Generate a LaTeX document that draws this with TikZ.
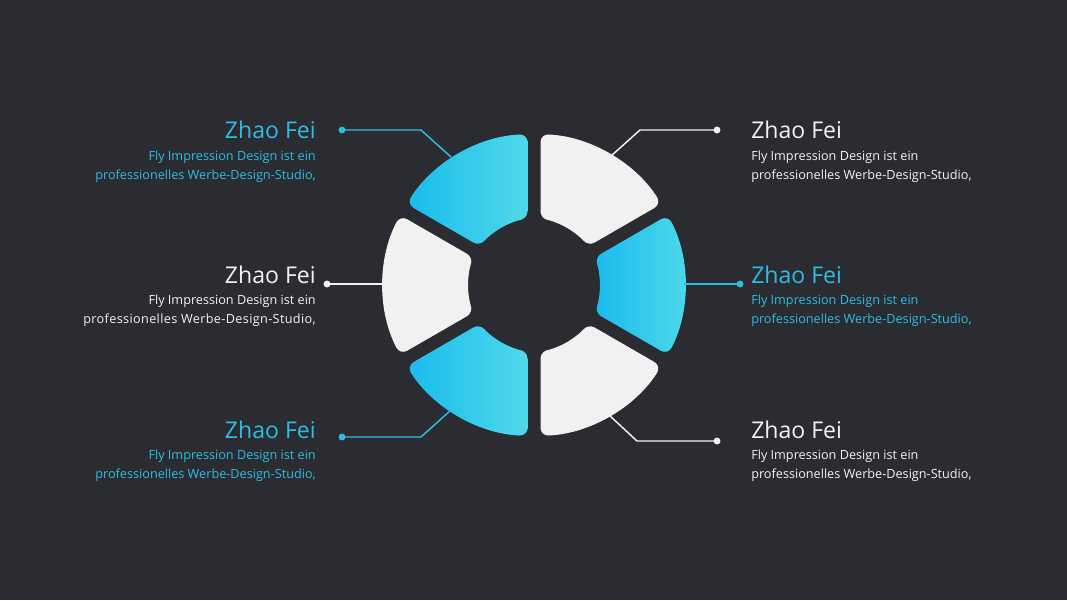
\documentclass[tikz,border=0pt]{standalone}
\usepackage{fontspec}
\setmainfont{Open Sans}
\usepackage{tikz}
\usetikzlibrary{positioning,calc}
\definecolor{ringBg}{HTML}{2B2C31}
\definecolor{ringGray}{HTML}{F1F1F1}
\definecolor{ringBlueL}{HTML}{19BBEC}
\definecolor{ringBlueR}{HTML}{4FD9EA}
\definecolor{ringCyan}{HTML}{2DBDE3}
\definecolor{ringWhite}{HTML}{F2F2F2}
\tikzset{
  ringpiece/.style={rounded corners=6pt},
  ringblue/.style={ringpiece, left color=ringBlueL, right color=ringBlueR},
  ringgray/.style={ringpiece, fill=ringGray},
  linkblue/.style={draw=ringCyan, line width=1.1pt},
  linkgray/.style={draw=ringWhite, line width=1.1pt},
  dotblue/.style={circle, fill=ringCyan, inner sep=0pt, minimum size=5.2pt},
  dotgray/.style={circle, fill=ringWhite, inner sep=0pt, minimum size=5.2pt},
  namelabel/.style={inner sep=0pt, font=\fontsize{17.3}{20}\selectfont},
  desclabel/.style={inner sep=0pt, font=\fontsize{9.5}{14.25}\selectfont}
}
% one ring piece: start angle, end angle, style
\newcommand{\ringpart}[3]{%
  \path[#3] ({(#1+#2)/2}:66) arc[start angle={(#1+#2)/2}, end angle={#1+5.65}, radius=66]
    -- ({#1+2.47}:151) arc[start angle={#1+2.47}, end angle={#2-2.47}, radius=151]
    -- ({#2-5.65}:66) arc[start angle={#2-5.65}, end angle={(#1+#2)/2}, radius=66];}
\begin{document}
\begin{tikzpicture}[x=0.75pt, y=-0.75pt]
  \fill[ringBg] (0,0) rectangle (1067,600);

  % the ring
  \begin{scope}[shift={(534,285)}, x=0.75pt, y=0.75pt]
    \ringpart{-30}{30}{ringblue}
    \ringpart{30}{90}{ringgray}
    \ringpart{90}{150}{ringblue}
    \ringpart{150}{210}{ringgray}
    \ringpart{210}{270}{ringblue}
    \ringpart{270}{330}{ringgray}
  \end{scope}

  % left column
  \node[namelabel, text=ringCyan, anchor=base east] (nameTL) at (316,138) {Zhao Fei};
  \node[desclabel, text=ringCyan, align=right, anchor=north east] (descTL) at (316,151)
    {Fly Impression Design ist ein\\professionelles Werbe-Design-Studio,};
  \node[namelabel, text=ringWhite, anchor=base east] (nameML) at (316,283) {Zhao Fei};
  \node[desclabel, text=ringWhite, align=right, anchor=north east] (descML) at (316,295)
    {Fly Impression Design ist ein\\{\addfontfeature{LetterSpace=2.8}professionelles Werbe-Design-Studio,}};
  \node[namelabel, text=ringCyan, anchor=base east] (nameBL) at (316,438) {Zhao Fei};
  \node[desclabel, text=ringCyan, align=right, anchor=north east] (descBL) at (316,450)
    {Fly Impression Design ist ein\\professionelles Werbe-Design-Studio,};

  % right column
  \node[namelabel, text=ringWhite, anchor=base west] (nameTR) at (751,138) {Zhao Fei};
  \node[desclabel, text=ringWhite, align=left, anchor=north west] (descTR) at (751,151)
    {Fly Impression Design ist ein\\professionelles Werbe-Design-Studio,};
  \node[namelabel, text=ringCyan, anchor=base west] (nameMR) at (751,283) {Zhao Fei};
  \node[desclabel, text=ringCyan, align=left, anchor=north west] (descMR) at (751,295)
    {Fly Impression Design ist ein\\professionelles Werbe-Design-Studio,};
  \node[namelabel, text=ringWhite, anchor=base west] (nameBR) at (751,438) {Zhao Fei};
  \node[desclabel, text=ringWhite, align=left, anchor=north west] (descBR) at (751,450)
    {Fly Impression Design ist ein\\professionelles Werbe-Design-Studio,};

  % leader lines
  \node[dotblue] (dotTL) at (342,130) {};
  \node[dotgray] (dotML) at (327,284) {};
  \node[dotblue] (dotBL) at (342,437) {};
  \node[dotgray] (dotTR) at (717,130) {};
  \node[dotblue] (dotMR) at (740,284) {};
  \node[dotgray] (dotBR) at (717,441) {};
  \coordinate (kneeTL) at (421,130);  \coordinate (endTL) at (451,157);
  \coordinate (endML) at (384,284);
  \coordinate (kneeBL) at (421,437);  \coordinate (endBL) at (451,410);
  \coordinate (kneeTR) at (640,130);  \coordinate (endTR) at (611,156);
  \coordinate (endMR) at (684,284);
  \coordinate (kneeBR) at (637,441);  \coordinate (endBR) at (609,415);
  \draw[linkblue] (dotTL.center) -- (kneeTL) -- (endTL);
  \draw[linkgray] (dotML.center) -- (endML);
  \draw[linkblue] (dotBL.center) -- (kneeBL) -- (endBL);
  \draw[linkgray] (dotTR.center) -- (kneeTR) -- (endTR);
  \draw[linkblue] (dotMR.center) -- (endMR);
  \draw[linkgray] (dotBR.center) -- (kneeBR) -- (endBR);
\end{tikzpicture}
\end{document}
